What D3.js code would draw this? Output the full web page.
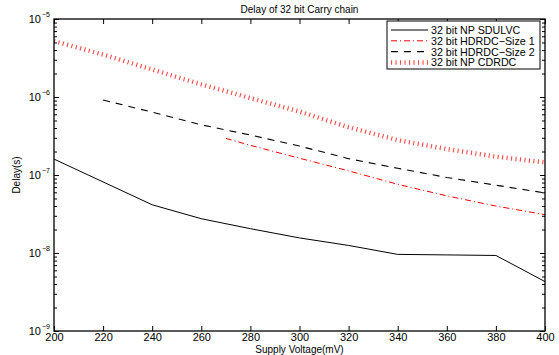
<!DOCTYPE html>
<html>
<head>
<meta charset="utf-8">
<script src="https://cdn.jsdelivr.net/npm/d3@7"></script>
<style>
  body { margin: 0; background: #fff; }
  text { font-family: "Liberation Sans", Arial, sans-serif; fill: #000; }
</style>
</head>
<body>
<div id="chart"></div>
<script>
// data (voltage in mV, delay in s)
const sdulvcV = [200, 240, 260, 280, 300, 320, 340, 360, 380, 400];
const sdulvcD = [1.6e-7, 4.15e-8, 2.75e-8, 2.05e-8, 1.56e-8, 1.25e-8, 9.6e-9, 9.45e-9, 9.3e-9, 4.3e-9];

const size1V = [270, 280, 300, 320, 340, 360, 380, 400];
const size1D = [2.95e-7, 2.4e-7, 1.64e-7, 1.13e-7, 7.6e-8, 5.4e-8, 4.0e-8, 3.1e-8];

const size2V = [220, 240, 260, 280, 300, 320, 340, 360, 380, 400];
const size2D = [9.15e-7, 6.4e-7, 4.4e-7, 3.25e-7, 2.35e-7, 1.62e-7, 1.22e-7, 9.3e-8, 7.4e-8, 5.9e-8];

const cdrdcV = [200, 220, 240, 260, 280, 300, 320, 340, 360, 380, 400];
const cdrdcD = [5.2e-6, 3.5e-6, 2.25e-6, 1.45e-6, 9.7e-7, 6.5e-7, 4.1e-7, 2.8e-7, 2.15e-7, 1.72e-7, 1.45e-7];

const seriesNames = ['32 bit NP SDULVC', '32 bit HDRDC\u2212Size 1', '32 bit HDRDC\u2212Size 2', '32 bit NP CDRDC'];
const xTicks = [200, 220, 240, 260, 280, 300, 320, 340, 360, 380, 400];
const yDecades = [-9, -8, -7, -6, -5];

const W = 559, H = 355;
const m = {left: 54, right: 14, top: 19, bottom: 24};

const svg = d3.select('#chart').append('svg')
    .attr('width', W)
    .attr('height', H);

const x = d3.scaleLinear().domain([200, 400]).range([m.left, W - m.right]);
const y = d3.scaleLog().domain([1e-9, 1e-5]).range([H - m.bottom, m.top]);

const styles = [
    {color: '#000', width: 1, dash: null},
    {color: '#ff0000', width: 1, dash: '6,3,1,3'},
    {color: '#000', width: 1.1, dash: '7,6'},
    {color: '#ff4a4a', width: 4.5, dash: '1.1,3.4'}
];

const series = [
    {v: sdulvcV, d: sdulvcD},
    {v: size1V, d: size1D},
    {v: size2V, d: size2D},
    {v: cdrdcV, d: cdrdcD}
];

//clip for lines
svg.append('clipPath').attr('id', 'plotclip')
    .append('rect')
    .attr('x', m.left).attr('y', m.top)
    .attr('width', W - m.left - m.right).attr('height', H - m.top - m.bottom);

const line = d3.line().x(d => x(d[0])).y(d => y(d[1]));

const lines_g = svg.append('g').attr('clip-path', 'url(#plotclip)');
series.forEach((s, i) => {
    let pts = s.v.map((v, j) => [v, s.d[j]]);
    lines_g.append('path')
        .datum(pts)
        .attr('d', line)
        .attr('fill', 'none')
        .attr('stroke', styles[i].color)
        .attr('stroke-width', styles[i].width)
        .attr('stroke-dasharray', styles[i].dash);
});

// minor ticks for the log axis
let minor = [];
yDecades.slice(0, -1).forEach(e => {
    for (let k = 2; k <= 9; k++) minor.push(k * Math.pow(10, e));
});
const major = yDecades.map(e => Math.pow(10, e));

// axes, ticks pointing inward on all four sides
const xb = svg.append('g').attr('transform', `translate(0,${H - m.bottom})`)
    .call(d3.axisBottom(x).tickValues(xTicks).tickSizeInner(-5).tickSizeOuter(0).tickPadding(2));
svg.append('g').attr('transform', `translate(0,${m.top})`)
    .call(d3.axisTop(x).tickValues(xTicks).tickSizeInner(-5).tickSizeOuter(0).tickFormat(''));
svg.append('g').attr('transform', `translate(${m.left},0)`)
    .call(d3.axisLeft(y).tickValues(major).tickSizeInner(-5).tickSizeOuter(0).tickFormat(''));
svg.append('g').attr('transform', `translate(${W - m.right},0)`)
    .call(d3.axisRight(y).tickValues(major).tickSizeInner(-5).tickSizeOuter(0).tickFormat(''));
svg.append('g').attr('transform', `translate(${m.left},0)`)
    .call(d3.axisLeft(y).tickValues(minor).tickSizeInner(-3).tickSizeOuter(0).tickFormat(''));
svg.append('g').attr('transform', `translate(${W - m.right},0)`)
    .call(d3.axisRight(y).tickValues(minor).tickSizeInner(-3).tickSizeOuter(0).tickFormat(''));

svg.selectAll('.domain').remove();
svg.selectAll('.tick line').attr('stroke', '#000').attr('stroke-width', 1);
xb.selectAll('.tick text').attr('font-size', 11).attr('font-family', '"Liberation Sans", Arial, sans-serif');

// frame
svg.append('rect')
    .attr('x', m.left).attr('y', m.top)
    .attr('width', W - m.left - m.right).attr('height', H - m.top - m.bottom)
    .attr('fill', 'none').attr('stroke', '#000').attr('stroke-width', 1.3);

// y tick labels 10^n
yDecades.forEach(e => {
    svg.append('text')
        .attr('x', m.left - 13)
        .attr('y', y(Math.pow(10, e)) + 4)
        .attr('text-anchor', 'end')
        .attr('font-size', 11)
        .text('10');
    svg.append('text')
        .attr('x', m.left - 12)
        .attr('y', y(Math.pow(10, e)) - 2.5)
        .attr('font-size', 7)
        .text('\u2212' + (-e));
});

// title and axis labels
svg.append('text')
    .attr('x', (m.left + W - m.right) / 2)
    .attr('y', 13)
    .attr('text-anchor', 'middle')
    .attr('font-size', 10)
    .text('Delay of 32 bit Carry chain');

svg.append('text')
    .attr('x', (m.left + W - m.right) / 2)
    .attr('y', 353)
    .attr('text-anchor', 'middle')
    .attr('font-size', 10)
    .text('Supply Voltage(mV)');

svg.append('text')
    .attr('transform', `translate(20,${(m.top + H - m.bottom) / 2}) rotate(-90)`)
    .attr('text-anchor', 'middle')
    .attr('font-size', 10)
    .text('Delay(s)');

// legend
const lg = svg.append('g');
lg.append('rect')
    .attr('x', 387).attr('y', 21)
    .attr('width', 153).attr('height', 48)
    .attr('fill', '#fff').attr('stroke', '#000').attr('stroke-width', 1);

seriesNames.forEach((name, i) => {
    let ly = 30 + i * 10.8;
    lg.append('line')
        .attr('x1', 391).attr('x2', 428)
        .attr('y1', ly).attr('y2', ly)
        .attr('stroke', styles[i].color)
        .attr('stroke-width', styles[i].width)
        .attr('stroke-dasharray', styles[i].dash);
    lg.append('text')
        .attr('x', 431)
        .attr('y', ly + 4)
        .attr('font-size', 10.7)
        .text(name);
});
</script>
</body>
</html>
